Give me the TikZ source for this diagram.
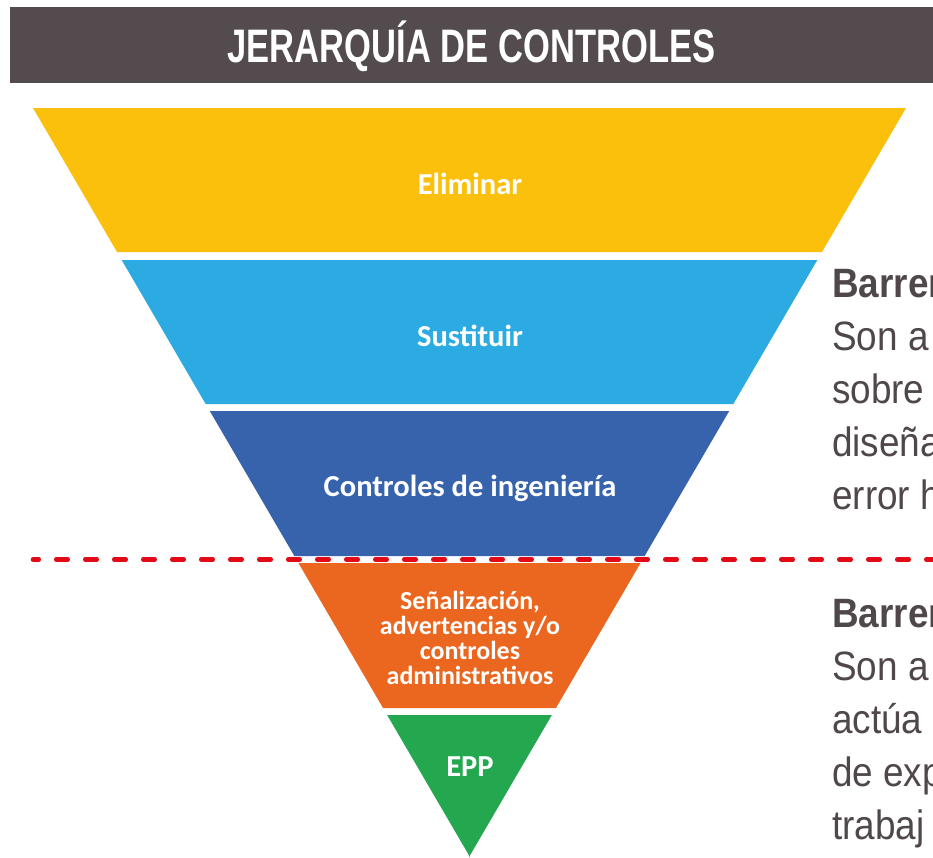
\documentclass[tikz,border=0pt]{standalone}
\usepackage{fontspec}
\setmainfont{Carlito}
\newfontfamily\titlefont[FakeStretch=0.735]{Liberation Sans}
\newfontfamily\sidefont[FakeStretch=0.9]{Liberation Sans}
\usetikzlibrary{positioning,calc}

\definecolor{headgray}{HTML}{534B4D}
\definecolor{sidegray}{HTML}{4F4749}
\definecolor{elimcol}{HTML}{FBC00B}
\definecolor{sustcol}{HTML}{2BABE2}
\definecolor{ingcol}{HTML}{3763AC}
\definecolor{admcol}{HTML}{EB671F}
\definecolor{eppcol}{HTML}{24A84F}
\definecolor{cutred}{HTML}{E30A17}

\begin{document}
\begin{tikzpicture}[x=1pt,y=-1pt]
  \tikzset{level/.style={
      font=\fontsize{30.5}{32}\selectfont\bfseries, text=white, inner sep=0pt, align=center
    },
    side/.style={
      font=\sidefont\fontsize{41}{53}\selectfont, text=sidegray, inner sep=0pt,
      align=left, anchor=base west
    },
    cutline/.style={cutred, line width=4.5pt, line cap=round,
      dash pattern=on 11.5pt off 17.5pt, dash phase=5.75pt}
  }

  \useasboundingbox (0,0) rectangle (933,857);
  \clip (0,0) rectangle (933,857);

  \fill[headgray] (10,7) rectangle (933,83);
  \node (title) at (471.5,62) [anchor=base, inner sep=0pt, text=white,
    font=\titlefont\bfseries\fontsize{47}{50}\selectfont] {JERARQUÍA DE CONTROLES};

  % funnel
  \foreach \yt/\yb/\col in {108/252/elimcol, 260/404/sustcol, 411/556/ingcol,
                            563/708/admcol, 715/857/eppcol}
    \fill[\col] ({33+0.5834*(\yt-108)},\yt) -- ({906-0.5834*(\yt-108)},\yt)
      -- ({906-0.5834*(\yb-108)},\yb) -- ({33+0.5834*(\yb-108)},\yb) -- cycle;

  \node[level] (elim) at (470,184) {Eliminar};
  \node[level] (sust) at (470,336) {Sustituir};
  \node[level] (ing) at (470,488) {Controles de ingeniería};
  \node[level, font=\fontsize{26}{24.7}\selectfont\bfseries] (adm) at (470,638)
    {Señalización,\\advertencias y/o\\controles\\administrativos};
  \node[level] (epp) at (470,767) {EPP};

  \coordinate (cutL) at (33,559.5);
  \coordinate (cutR) at (940,559.5);
  \draw[cutline] (cutL) -- (cutR);

  % last baseline of each block
  \node[side] (hard) at (832,509)
    {\textbf{Barrer}\\Son a\\sobre\\diseña\\error h};
  \node[side] (soft) at (832,839)
    {\textbf{Barrer}\\Son a\\actúa\\de exp\\trabaj};
\end{tikzpicture}
\end{document}
